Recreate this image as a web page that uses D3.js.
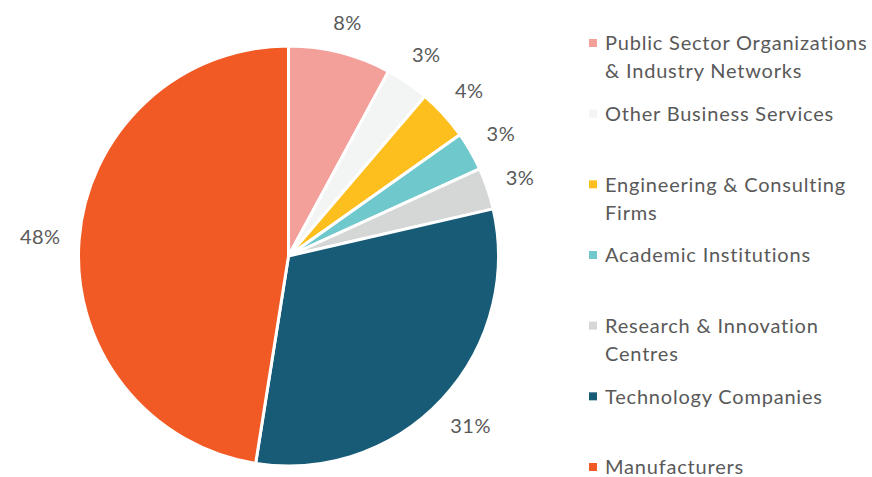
<!DOCTYPE html>
<html>
<head>
<meta charset="utf-8">
<script src="https://cdn.jsdelivr.net/npm/d3@7"></script>
<style>
  body { margin: 0; background: #fff; }
  svg { display: block; }
</style>
</head>
<body>
<svg id="chart" width="872" height="477"></svg>
<script>
// data
const categories = [
  "Public Sector Organizations\n& Industry Networks",
  "Other Business Services",
  "Engineering & Consulting\nFirms",
  "Academic Institutions",
  "Research & Innovation\nCentres",
  "Technology Companies",
  "Manufacturers"
];
// slice sizes as drawn (labels show them rounded)
const shares = [7.9, 3.35, 3.95, 3.0, 3.2, 31.1, 47.5];
const labels = ["8%", "3%", "4%", "3%", "3%", "31%", "48%"];
const colors = ["#f4a09a", "#f3f4f4", "#fdbf1e", "#6fc8cc", "#d5d7d6", "#175b77", "#f15a24"];

const svg = d3.select("#chart");
const font = "Lato, 'Open Sans', sans-serif";

const cx = 288.5, cy = 256, radius = 210;
const labelGap = 18;

const pie = d3.pie().sort(null).value((d) => d.v);
const arcs = pie(shares.map((v, i) => ({ v, i })));

const arc = d3.arc().innerRadius(0).outerRadius(radius);

const g = svg.append("g").attr("transform", `translate(${cx},${cy})`);

g.selectAll("path")
  .data(arcs)
  .join("path")
  .attr("d", arc)
  .attr("fill", (d) => colors[d.data.i])
  .attr("stroke", "#fff")
  .attr("stroke-width", 3)
  .attr("stroke-linejoin", "round");

// outside-end labels: push each label box out until it clears the rim
g.selectAll("text.pct")
  .data(arcs)
  .join("text")
  .attr("class", "pct")
  .attr("text-anchor", "middle")
  .attr("dy", "0.36em")
  .style("font-family", font)
  .style("font-size", "20px")
  .style("letter-spacing", "0.5px")
  .style("fill", "#595959")
  .text((d) => labels[d.data.i])
  .attr("transform", function (d) {
    const box = this.getBBox();
    const a = (d.startAngle + d.endAngle) / 2;
    const s = Math.sin(a), c = -Math.cos(a);
    const ext = Math.abs(s) * box.width / 2 + Math.abs(c) * 9;
    const r = radius + labelGap + ext;
    return `translate(${r * s},${r * c})`;
  });

// legend
const legendY = d3.scalePoint().domain(d3.range(categories.length)).range([43, 467]);

const legend = svg.append("g")
  .selectAll("g")
  .data(categories)
  .join("g")
  .attr("transform", (d, i) => `translate(589,${legendY(i)})`);

legend.append("rect")
  .attr("x", 0)
  .attr("y", -4)
  .attr("width", 8)
  .attr("height", 8)
  .attr("fill", (d, i) => colors[i]);

legend.append("text")
  .attr("x", 16)
  .attr("y", 0)
  .style("font-family", font)
  .style("font-size", "20px")
  .style("letter-spacing", "0.8px")
  .style("fill", "#595959")
  .selectAll("tspan")
  .data((d) => d.split("\n"))
  .join("tspan")
  .attr("x", 16)
  .attr("dy", (d, j) => (j === 0 ? "0.36em" : "28px"))
  .text((d) => d);
</script>
</body>
</html>
